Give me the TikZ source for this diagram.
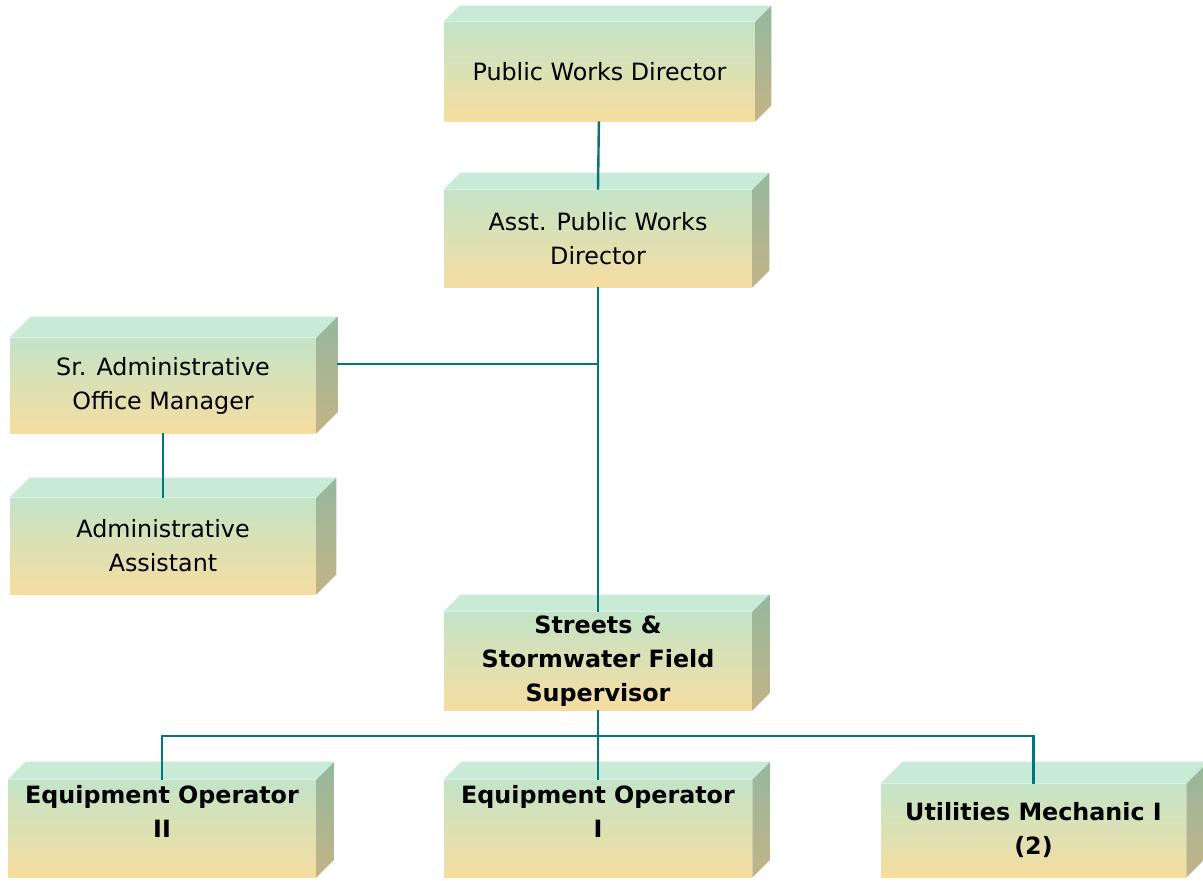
\documentclass[tikz,border=0pt]{standalone}
\usepackage{fontspec}
\setmainfont{DejaVu Sans}
\usepackage{tikz}
\usetikzlibrary{positioning}
\definecolor{fronttop}{HTML}{C3E4C8}
\definecolor{frontbot}{HTML}{F6DDA0}
\definecolor{topface}{HTML}{C8EAD6}
\definecolor{sidetop}{HTML}{95B89D}
\definecolor{sidebot}{HTML}{C3B386}
\definecolor{linkteal}{HTML}{00767E}
\tikzset{
    post/.style={
           rectangle,
           top color=fronttop,
           bottom color=frontbot,
           inner sep=0pt,
           align=center,
           font=\fontsize{11.9}{17}\selectfont,
           },
    boldpost/.style={
           post,
           font=\fontsize{11.9}{17}\selectfont\bfseries,
           },
    lid/.style={
           fill=topface,
           },
    flank/.style={
           top color=sidetop,
           bottom color=sidebot,
           },
    link/.style={
           draw=linkteal,
           line width=1.2pt,
           },
}

\begin{document}
\begin{tikzpicture}[x=0.5pt,y=-0.5pt]
\useasboundingbox (0,0) rectangle (1203,880);
\node[post, minimum width=155.5pt, minimum height=49.5pt] (pwd) at (599.5,71.5) {Public Works Director};
\node[post, minimum width=154pt, minimum height=48.5pt] (asst) at (598,238.5) {Asst. Public Works\\Director};
\node[post, minimum width=153pt, minimum height=47.5pt] (sr) at (163,385.5) {Sr. Administrative\\Office Manager};
\node[post, minimum width=153pt, minimum height=48pt] (aa) at (163,546) {Administrative\\Assistant};
\node[boldpost, minimum width=154pt, minimum height=49pt] (streets) at (598,661) {Streets \&\\Stormwater Field\\Supervisor};
\node[boldpost, minimum width=154pt, minimum height=48.5pt] (eo2) at (162,828.5) {Equipment Operator\\II\\~};
\node[boldpost, minimum width=154pt, minimum height=48.5pt] (eo1) at (598,828.5) {Equipment Operator\\I\\~};
\node[boldpost, minimum width=152.5pt, minimum height=46.5pt] (um) at (1033.5,830.5) {Utilities Mechanic I\\(2)};
% top and side faces
\foreach \n/\d in {pwd/16, asst/17, sr/21, aa/20, streets/17, eo2/18, eo1/18, um/22} {
  \fill[lid] (\n.north west) -- ([shift={(\d,-\d)}]\n.north west) -- ([shift={(\d,-\d)}]\n.north east) -- (\n.north east) -- cycle;
  \shade[flank] (\n.north east) -- ([shift={(\d,-\d)}]\n.north east) -- ([shift={(\d,-\d)}]\n.south east) -- (\n.south east) -- cycle;
}
\coordinate (srjoin) at (337,364);
\coordinate (fork) at (598,736);
\path[link] (pwd) -- (asst.north);
\path[link] (asst) -- (streets.north);
\path[link] (srjoin) -- (srjoin -| asst.south);
\path[link] (sr) -- (aa.north);
\path[link] (streets) -- (eo1.north);
\path[link] (eo2.north) |- (fork) -| (um.north);
\end{tikzpicture}
\end{document}
